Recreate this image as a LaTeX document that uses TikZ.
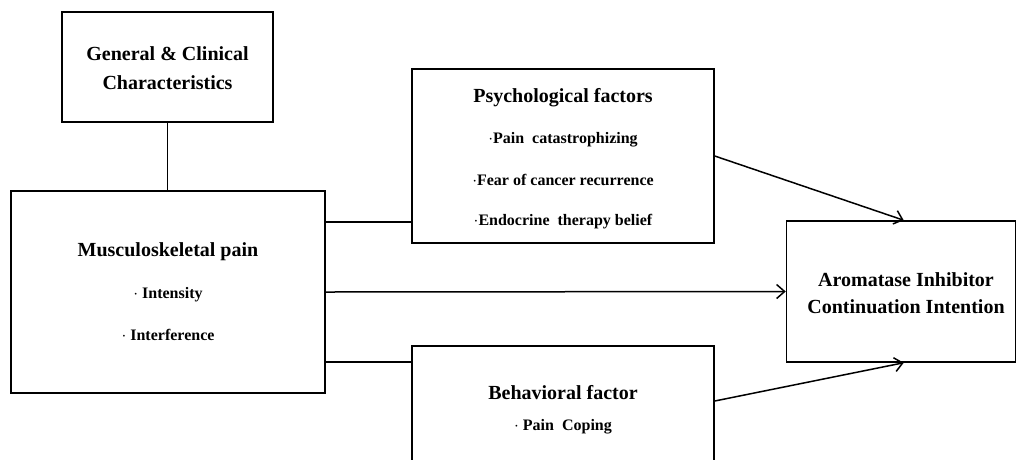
\documentclass[tikz,border=0pt]{standalone}
\usepackage{fontspec}
\setmainfont{Liberation Serif}
\usetikzlibrary{arrows.meta,calc}
\begin{document}
\begin{tikzpicture}[x=1pt,y=-1pt,
  box/.style={draw,line width=1.5pt,rectangle,inner sep=0pt},
  ttl/.style={font=\bfseries\fontsize{20}{24}\selectfont,inner sep=0pt,align=center},
  itm/.style={font=\bfseries\fontsize{16}{19}\selectfont,inner sep=0pt},
  conn/.style={line width=1.5pt},
  arr/.style={line width=1.5pt,-{Straight Barb[length=8pt,width=14pt,line width=1.5pt]}}]
\useasboundingbox[fill=white] (0,0) rectangle (1016,459);
% boxes
\node[box,minimum width=211pt,minimum height=110pt] (gen) at (167.5,67) {};
\node[box,minimum width=314pt,minimum height=202pt] (mp) at (168,292) {};
\node[box,minimum width=302pt,minimum height=174pt] (ps) at (563,156) {};
\node[box,minimum width=302pt,minimum height=124pt] (bh) at (563,408) {};
\node[box,minimum width=229pt,minimum height=141pt] (ai) at (901,291.5) {};
% texts
\node[ttl] (genA) at (167.5,54) {General \& Clinical};
\node[ttl] (genB) at (167.5,83) {Characteristics};
\node[ttl] (mpT) at (168,252) {Musculoskeletal pain};
\node[itm] (mp1) at (168,295) {$\cdot$ Intensity};
\node[itm] (mp2) at (168,335) {$\cdot$ Interference};
\node[ttl] (psT) at (563,98) {Psychological factors};
\node[itm] (ps1) at (563,140) {$\cdot$Pain\ \ catastrophizing};
\node[itm] (ps2) at (563,180) {$\cdot$Fear of cancer recurrence};
\node[itm] (ps3) at (563,222) {$\cdot$Endocrine\ \ therapy belief};
\node[ttl] (bhT) at (563,393) {Behavioral factor};
\node[itm] (bh1) at (563,427) {$\cdot$ Pain\ \ Coping};
\node[ttl] (aiA) at (906,280) {Aromatase Inhibitor};
\node[ttl] (aiB) at (906,307) {Continuation Intention};
% connectors
\coordinate (psIn) at (0,222);
\coordinate (bhIn) at (0,362);
\coordinate (bhOut) at (0,401);
\coordinate (aiTop) at ($(ai.north west)+(118,0)$);
\coordinate (aiBot) at ($(ai.south west)+(118,0)$);
\draw[conn] (gen.south) -- (gen.south |- mp.north);
\draw[conn] (mp.east |- psIn) -- (ps.west |- psIn);
\draw[conn] (mp.east |- bhIn) -- (bh.west |- bhIn);
\draw[arr] (mp.east) -- (ai.west);
\draw[arr] (ps.east) -- (aiTop);
\draw[arr] (bh.east |- bhOut) -- (aiBot);
\end{tikzpicture}
\end{document}
